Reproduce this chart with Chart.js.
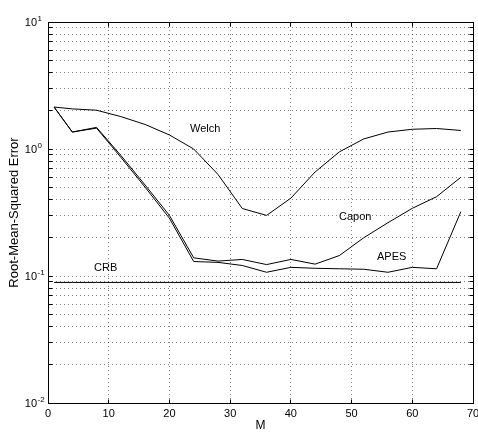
<!DOCTYPE html>
<html>
<head>
<meta charset="utf-8">
<script src="https://cdn.jsdelivr.net/npm/chart.js@4.4.0/dist/chart.umd.min.js"></script>
<style>
  html, body { margin: 0; padding: 0; background: #fff; }
</style>
</head>
<body>
<canvas id="chart" width="478" height="433"></canvas>
<script>
var M = [1, 4, 8, 12, 16, 20, 24, 28, 32, 36, 40, 44, 48, 52, 56, 60, 64, 68];
var welch = [2.14, 2.07, 2.02, 1.80, 1.56, 1.29, 1.00, 0.63, 0.34, 0.30, 0.41, 0.66, 0.95, 1.20, 1.36, 1.43, 1.45, 1.40];
var capon = [2.14, 1.36, 1.48, 0.89, 0.52, 0.30, 0.139, 0.131, 0.135, 0.123, 0.135, 0.124, 0.145, 0.200, 0.263, 0.341, 0.421, 0.599];
var apes = [2.14, 1.36, 1.46, 0.86, 0.50, 0.285, 0.130, 0.128, 0.121, 0.107, 0.117, 0.115, 0.114, 0.113, 0.107, 0.117, 0.114, 0.321];
var crb = [0.089, 0.089, 0.089, 0.089, 0.089, 0.089, 0.089, 0.089, 0.089, 0.089, 0.089, 0.089, 0.089, 0.089, 0.089, 0.089, 0.089, 0.089];
var xTicks = [0, 10, 20, 30, 40, 50, 60, 70];
var yExponents = [-2, -1, 0, 1];
var curveNames = ['Welch', 'Capon', 'APES', 'CRB'];

var FONT = "'Liberation Sans', Arial, sans-serif";

function pairs(ys) {
    return M.map(function(m, i) { return { x: m, y: ys[i] }; });
}

function lineSet(name, ys) {
    return {
        label: name,
        data: pairs(ys),
        borderColor: '#000',
        borderWidth: 1,
        pointRadius: 0,
        tension: 0,
        fill: false
    };
}

// text labels next to the curves, in data coordinates
var curveLabelAt = [
    { x: 25.9, y: 1.44 },
    { x: 50.6, y: 0.293 },
    { x: 56.6, y: 0.141 },
    { x: 9.5, y: 0.115 }
];

var decor = {
    id: 'decor',
    afterDraw: function(chart) {
        var ctx = chart.ctx;
        var a = chart.chartArea;
        var xs = chart.scales.x;
        var ys = chart.scales.y;
        var L = Math.floor(a.left) + 0.5, R = Math.floor(a.right) + 0.5;
        var T = Math.floor(a.top) + 0.5, B = Math.floor(a.bottom) + 0.5;

        ctx.save();
        ctx.strokeStyle = '#000';
        ctx.lineWidth = 1;

        // inside tick marks, all four sides
        ctx.beginPath();
        ys.ticks.forEach(function(t) {
            var y = Math.floor(ys.getPixelForValue(t.value)) + 0.5;
            ctx.moveTo(L, y); ctx.lineTo(L + 4, y);
            ctx.moveTo(R, y); ctx.lineTo(R - 4, y);
        });
        xs.ticks.forEach(function(t) {
            var x = Math.floor(xs.getPixelForValue(t.value)) + 0.5;
            ctx.moveTo(x, B); ctx.lineTo(x, B - 4);
            ctx.moveTo(x, T); ctx.lineTo(x, T + 4);
        });
        ctx.stroke();
        ctx.strokeRect(L, T, R - L, B - T);

        // y labels 10^n
        ctx.fillStyle = '#000';
        ctx.textBaseline = 'middle';
        yExponents.forEach(function(e) {
            var y = ys.getPixelForValue(Math.pow(10, e));
            ctx.font = '11px ' + FONT;
            ctx.textAlign = 'right';
            ctx.fillText('10', 37, y + 0.5);
            ctx.font = '8px ' + FONT;
            ctx.textAlign = 'left';
            ctx.fillText(String(e), 37.5, y - 3.5);
        });

        // curve names
        ctx.font = '11px ' + FONT;
        ctx.textAlign = 'center';
        curveNames.forEach(function(n, i) {
            var p = curveLabelAt[i];
            ctx.fillText(n, xs.getPixelForValue(p.x), ys.getPixelForValue(p.y));
        });
        ctx.restore();
    }
};

var gridStyle = {
    color: 'rgba(0,0,0,0.5)',
    lineWidth: 1,
    drawTicks: false
};

new Chart(document.getElementById('chart').getContext('2d'), {
    type: 'line',
    data: {
        datasets: [
            lineSet('Welch', welch),
            lineSet('Capon', capon),
            lineSet('APES', apes),
            lineSet('CRB', crb)
        ]
    },
    options: {
        responsive: false,
        animation: false,
        layout: { padding: { left: 0, top: 22, right: 5, bottom: 0 } },
        plugins: {
            legend: { display: false },
            tooltip: { enabled: false }
        },
        scales: {
            x: {
                type: 'linear',
                min: 0,
                max: 70,
                afterBuildTicks: function(s) {
                    s.ticks = xTicks.map(function(v) { return { value: v }; });
                },
                afterFit: function(s) {
                    s.height = 30;
                    s.paddingLeft = 0;
                    s.paddingRight = 0;
                },
                grid: gridStyle,
                border: { display: false, dash: [1, 3] },
                ticks: {
                    autoSkip: false,
                    maxRotation: 0,
                    padding: 4,
                    color: '#000',
                    font: { size: 11, family: FONT }
                },
                title: {
                    display: true,
                    text: 'M',
                    color: '#000',
                    padding: { top: 0, bottom: 0 },
                    font: { size: 12, family: FONT }
                }
            },
            y: {
                type: 'logarithmic',
                min: 0.01,
                max: 10,
                afterBuildTicks: function(s) {
                    var t = [];
                    yExponents.forEach(function(e, i) {
                        var base = Math.pow(10, e);
                        var top = i === yExponents.length - 1 ? 1 : 9;
                        for (var k = 1; k <= top; k++) {
                            t.push({ value: k * base, major: k === 1 });
                        }
                    });
                    s.ticks = t;
                },
                afterFit: function(s) {
                    s.width = 48;
                    s.paddingTop = 0;
                    s.paddingBottom = 0;
                },
                grid: gridStyle,
                border: { display: false, dash: [1, 3] },
                ticks: { display: false },
                title: {
                    display: true,
                    text: 'Root-Mean-Squared Error',
                    color: '#000',
                    padding: { top: 7, bottom: 0 },
                    font: { size: 13, family: FONT }
                }
            }
        }
    },
    plugins: [decor]
});
</script>
</body>
</html>
